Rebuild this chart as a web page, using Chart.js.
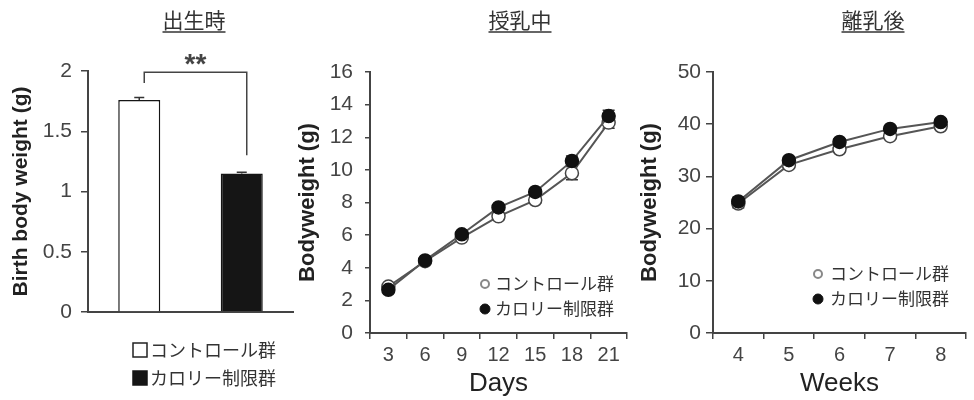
<!DOCTYPE html>
<html>
<head>
<meta charset="utf-8">
<script src="https://cdn.jsdelivr.net/npm/chart.js@4.4.1/dist/chart.umd.min.js"></script>
<style>
  body { margin: 0; background: #fff; }
  #wrap { position: relative; width: 974px; height: 400px; overflow: hidden; }
  #wrap canvas { position: absolute; top: 0; }
</style>
</head>
<body>
<div id="wrap">
  <canvas id="birth" width="295" height="400" style="left:0"></canvas>
  <canvas id="lact" width="340" height="400" style="left:295px"></canvas>
  <canvas id="post" width="339" height="400" style="left:635px"></canvas>
</div>
<script>
// data
var groupNames = ["コントロール群", "カロリー制限群"];
var panelTitles = ["出生時", "授乳中", "離乳後"];

var birthWeight = [1.76, 1.15];
var birthSem = [0.02, 0.01];
var sigMark = "**";
var sigLevels = [1.99, 1.9, 1.3]; // bracket top, left leg end, right leg end

var dayLabels = ["3", "6", "9", "12", "15", "18", "21"];
var lactControl = [2.85, 4.4, 5.85, 7.15, 8.15, 9.8, 12.9];
var lactCalorie = [2.65, 4.45, 6.05, 7.7, 8.65, 10.55, 13.3];
var lactControlSem = [0.15, 0.15, 0.15, 0.2, 0.2, 0.4, 0.35];
var lactCalorieSem = [0.15, 0.15, 0.15, 0.15, 0.2, 0.3, 0.35];

var weekLabels = ["4", "5", "6", "7", "8"];
var postControl = [24.8, 32.2, 35.2, 37.7, 39.6];
var postCalorie = [25.2, 33.1, 36.6, 39.1, 40.4];
var postControlSem = [0.8, 0.6, 0.6, 0.6, 0.6];
var postCalorieSem = [0.8, 0.6, 0.6, 0.6, 0.6];

Chart.defaults.font.family = '"Liberation Sans", Arial, sans-serif';
Chart.defaults.color = '#444';
Chart.defaults.animation = false;
Chart.defaults.plugins.legend.display = false;
Chart.defaults.plugins.tooltip.enabled = false;

var jpFont = '"Noto Sans CJK JP", sans-serif';

// underlined panel heading
var panelTitle = {
  id: 'panelTitle',
  afterDraw: function (chart, args, opts) {
    var ctx = chart.ctx;
    ctx.save();
    ctx.font = '21px ' + jpFont;
    ctx.fillStyle = '#333';
    ctx.textAlign = 'center';
    ctx.textBaseline = 'middle';
    ctx.fillText(opts.text, opts.x, 20);
    var w = ctx.measureText(opts.text).width;
    ctx.strokeStyle = '#333';
    ctx.lineWidth = 1.5;
    ctx.beginPath();
    ctx.moveTo(opts.x - w / 2, 32);
    ctx.lineTo(opts.x + w / 2, 32);
    ctx.stroke();
    ctx.restore();
  }
};

var errorBars = {
  id: 'errorBars',
  beforeDatasetsDraw: function (chart, args, opts) {
    var ctx = chart.ctx, y = chart.scales.y;
    ctx.save();
    ctx.strokeStyle = '#333';
    ctx.lineWidth = 1.5;
    chart.data.datasets.forEach(function (ds, di) {
      if (!ds.sem) return;
      chart.getDatasetMeta(di).data.forEach(function (el, i) {
        var v = ds.data[i], e = ds.sem[i];
        var top = y.getPixelForValue(v + e);
        var bot = y.getPixelForValue(opts.upOnly ? v : v - e);
        ctx.beginPath();
        ctx.moveTo(el.x, top);
        ctx.lineTo(el.x, bot);
        ctx.moveTo(el.x - opts.cap, top);
        ctx.lineTo(el.x + opts.cap, top);
        if (!opts.upOnly) {
          ctx.moveTo(el.x - opts.cap, bot);
          ctx.lineTo(el.x + opts.cap, bot);
        }
        ctx.stroke();
      });
    });
    ctx.restore();
  }
};

var sigBracket = {
  id: 'sigBracket',
  afterDatasetsDraw: function (chart) {
    var ctx = chart.ctx, x = chart.scales.x, y = chart.scales.y;
    var x0 = x.getPixelForValue(0) + 5, x1 = x.getPixelForValue(1) + 5;
    var yTop = y.getPixelForValue(sigLevels[0]);
    ctx.save();
    ctx.strokeStyle = '#444';
    ctx.lineWidth = 1.5;
    ctx.beginPath();
    ctx.moveTo(x0, y.getPixelForValue(sigLevels[1]));
    ctx.lineTo(x0, yTop);
    ctx.lineTo(x1, yTop);
    ctx.lineTo(x1, y.getPixelForValue(sigLevels[2]));
    ctx.stroke();
    ctx.font = 'bold 28px "Liberation Sans", Arial';
    ctx.fillStyle = '#444';
    ctx.textAlign = 'center';
    ctx.textBaseline = 'alphabetic';
    ctx.fillText(sigMark, (x0 + x1) / 2, yTop + 1);
    ctx.restore();
  }
};

var markerLegend = {
  id: 'markerLegend',
  afterDraw: function (chart, args, opts) {
    var ctx = chart.ctx;
    ctx.save();
    ctx.font = opts.size + 'px ' + jpFont;
    ctx.textBaseline = 'middle';
    opts.items.forEach(function (it, i) {
      var cy = opts.y + i * opts.rowGap;
      ctx.beginPath();
      if (it.shape === 'square') {
        ctx.rect(opts.markX - 7, cy - 7, 14, 14);
        ctx.fillStyle = it.fill;
        ctx.fill();
        ctx.lineWidth = 1.5;
        ctx.strokeStyle = it.stroke;
        ctx.stroke();
      } else {
        ctx.arc(opts.markX, cy, it.r, 0, Math.PI * 2);
        ctx.fillStyle = it.fill;
        ctx.fill();
        ctx.lineWidth = it.lw;
        ctx.strokeStyle = it.stroke;
        ctx.stroke();
      }
      ctx.fillStyle = '#333';
      ctx.fillText(it.text, opts.textX, cy);
    });
    ctx.restore();
  }
};

function yAxis(max, step, width, title, titleSize, titlePad, tickLen, tickPad) {
  return {
    min: 0,
    max: max,
    ticks: {
      stepSize: step, color: '#444', font: { size: 21 }, padding: tickPad,
      callback: function (v) { return String(v); }
    },
    grid: { drawOnChartArea: false, tickLength: tickLen, color: '#444', lineWidth: 1.5 },
    border: { color: '#444', width: 2 },
    title: {
      display: true, text: title, color: '#222',
      font: { size: titleSize, weight: 'bold' },
      padding: { top: titlePad, bottom: 0 }
    },
    afterFit: function (s) { s.width = width; }
  };
}

function xAxis(title, height) {
  return {
    offset: true,
    grid: { offset: true, drawOnChartArea: false, tickLength: 6, color: '#444', lineWidth: 1.5 },
    border: { color: '#444', width: 2 },
    ticks: { color: '#444', font: { size: 20 }, padding: 4, maxRotation: 0, autoSkip: false },
    title: { display: true, text: title, color: '#222', font: { size: 26 }, padding: { top: 0, bottom: 1 } },
    afterFit: function (s) { s.height = height; }
  };
}

function lineSet(label, data, sem, filled, order) {
  return {
    label: label,
    data: data,
    sem: sem,
    order: order,
    borderColor: '#555',
    borderWidth: 2,
    pointRadius: 6.5,
    pointBorderWidth: 1.5,
    pointBackgroundColor: filled ? '#111' : '#fff',
    pointBorderColor: filled ? '#111' : '#444'
  };
}

function lineLegend(markX, textX, y) {
  return {
    markX: markX, textX: textX, y: y, rowGap: 25, size: 17,
    items: [
      { shape: 'circle', r: 4, lw: 2, fill: '#fff', stroke: '#888', text: groupNames[0] },
      { shape: 'circle', r: 5, lw: 1, fill: '#111', stroke: '#111', text: groupNames[1] }
    ]
  };
}

// birth weight bars
new Chart(document.getElementById('birth'), {
  type: 'bar',
  data: {
    labels: groupNames,
    datasets: [{
      data: birthWeight,
      sem: birthSem,
      backgroundColor: ['#fff', '#151515'],
      borderColor: '#151515',
      borderWidth: 1.5,
      barPercentage: 0.41,
      categoryPercentage: 1
    }]
  },
  options: {
    responsive: false,
    layout: { padding: { top: 71, right: 2, bottom: 0, left: 0 } },
    scales: {
      x: {
        ticks: { display: false },
        grid: { display: false },
        border: { color: '#444', width: 2 },
        afterFit: function (s) { s.height = 88; }
      },
      y: yAxis(2, 0.5, 88, 'Birth body weight (g)', 21, 9, 7, 9)
    },
    plugins: {
      panelTitle: { text: panelTitles[0], x: 194 },
      errorBars: { cap: 5, upOnly: true },
      markerLegend: {
        markX: 140, textX: 150, y: 350, rowGap: 28, size: 18,
        items: [
          { shape: 'square', fill: '#fff', stroke: '#222', text: groupNames[0] },
          { shape: 'square', fill: '#151515', stroke: '#151515', text: groupNames[1] }
        ]
      }
    }
  },
  plugins: [panelTitle, errorBars, sigBracket, markerLegend]
});

// lactation period
new Chart(document.getElementById('lact'), {
  type: 'line',
  data: {
    labels: dayLabels,
    datasets: [
      lineSet(groupNames[0], lactControl, lactControlSem, false, 1),
      lineSet(groupNames[1], lactCalorie, lactCalorieSem, true, 0)
    ]
  },
  options: {
    responsive: false,
    layout: { padding: { top: 72, right: 7, bottom: 0, left: 0 } },
    scales: {
      x: xAxis('Days', 67),
      y: yAxis(16, 2, 75, 'Bodyweight (g)', 22, 0, 5, 12)
    },
    plugins: {
      panelTitle: { text: panelTitles[1], x: 225 },
      errorBars: { cap: 6 },
      markerLegend: lineLegend(190, 200, 284)
    }
  },
  plugins: [panelTitle, errorBars, markerLegend]
});

// after weaning
new Chart(document.getElementById('post'), {
  type: 'line',
  data: {
    labels: weekLabels,
    datasets: [
      lineSet(groupNames[0], postControl, postControlSem, false, 1),
      lineSet(groupNames[1], postCalorie, postCalorieSem, true, 0)
    ]
  },
  options: {
    responsive: false,
    layout: { padding: { top: 72, right: 0, bottom: 0, left: 0 } },
    scales: {
      x: xAxis('Weeks', 67),
      y: yAxis(50, 10, 78, 'Bodyweight (g)', 22, 2, 7, 5)
    },
    plugins: {
      panelTitle: { text: panelTitles[2], x: 238 },
      errorBars: { cap: 6 },
      markerLegend: lineLegend(183, 195, 274)
    }
  },
  plugins: [panelTitle, errorBars, markerLegend]
});
</script>
</body>
</html>
